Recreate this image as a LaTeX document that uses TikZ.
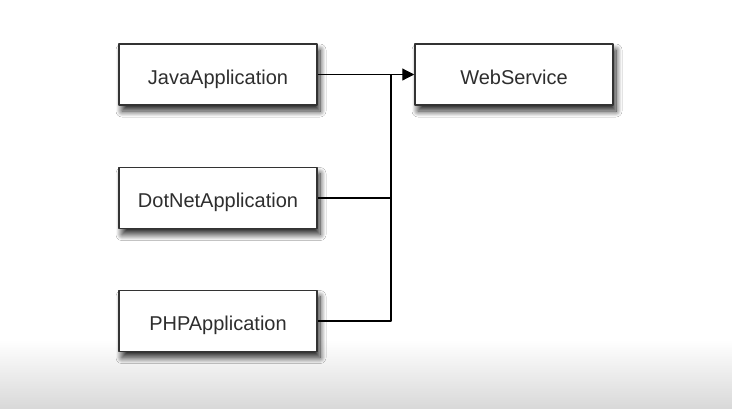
\documentclass[tikz,border=0pt]{standalone}
\usepackage{fontspec}
\setmainfont{Liberation Sans}
\usetikzlibrary{arrows.meta,shadows.blur}
\definecolor{boxline}{HTML}{333333}
\definecolor{boxtext}{HTML}{2E2E2E}
\tikzset{
  classbox/.style={draw=boxline, line width=1.5pt, fill=white, text=boxtext,
    minimum width=198pt, minimum height=61pt, inner sep=0pt,
    text height=19pt, text depth=0pt,
    font=\fontsize{20}{22}\selectfont,
    blur shadow={shadow xshift=3pt, shadow yshift=-6pt, shadow blur radius=6pt,
      shadow blur steps=12, shadow opacity=85}},
  wire/.style={line width=1.2pt, black}
}
\begin{document}
\begin{tikzpicture}[x=1pt, y=-1pt, line join=round, >={Triangle[length=12pt,width=12pt]}]
    % page and the grey band at its foot
    \fill[white] (0,0) rectangle (732,408);
    \shade[top color=white, bottom color=gray!30] (0,340) rectangle (732,408);
    \useasboundingbox (0,0) rectangle (732,408);
    \node[classbox] (java)   at (218,74.5) {JavaApplication};
    \node[classbox] (dotnet) at (218,198)  {DotNetApplication};
    \node[classbox] (php)    at (218,321)  {PHPApplication};
    \node[classbox] (web)    at (514,74.5) {WebService};
    \coordinate (join) at (391,74.5);
    \draw[wire,->] (java.east)--(web.west);
    \draw[wire] (php.east) -| (join);
    \draw[wire] (dotnet.east)--(dotnet.east -| join);
\end{tikzpicture}
\end{document}
